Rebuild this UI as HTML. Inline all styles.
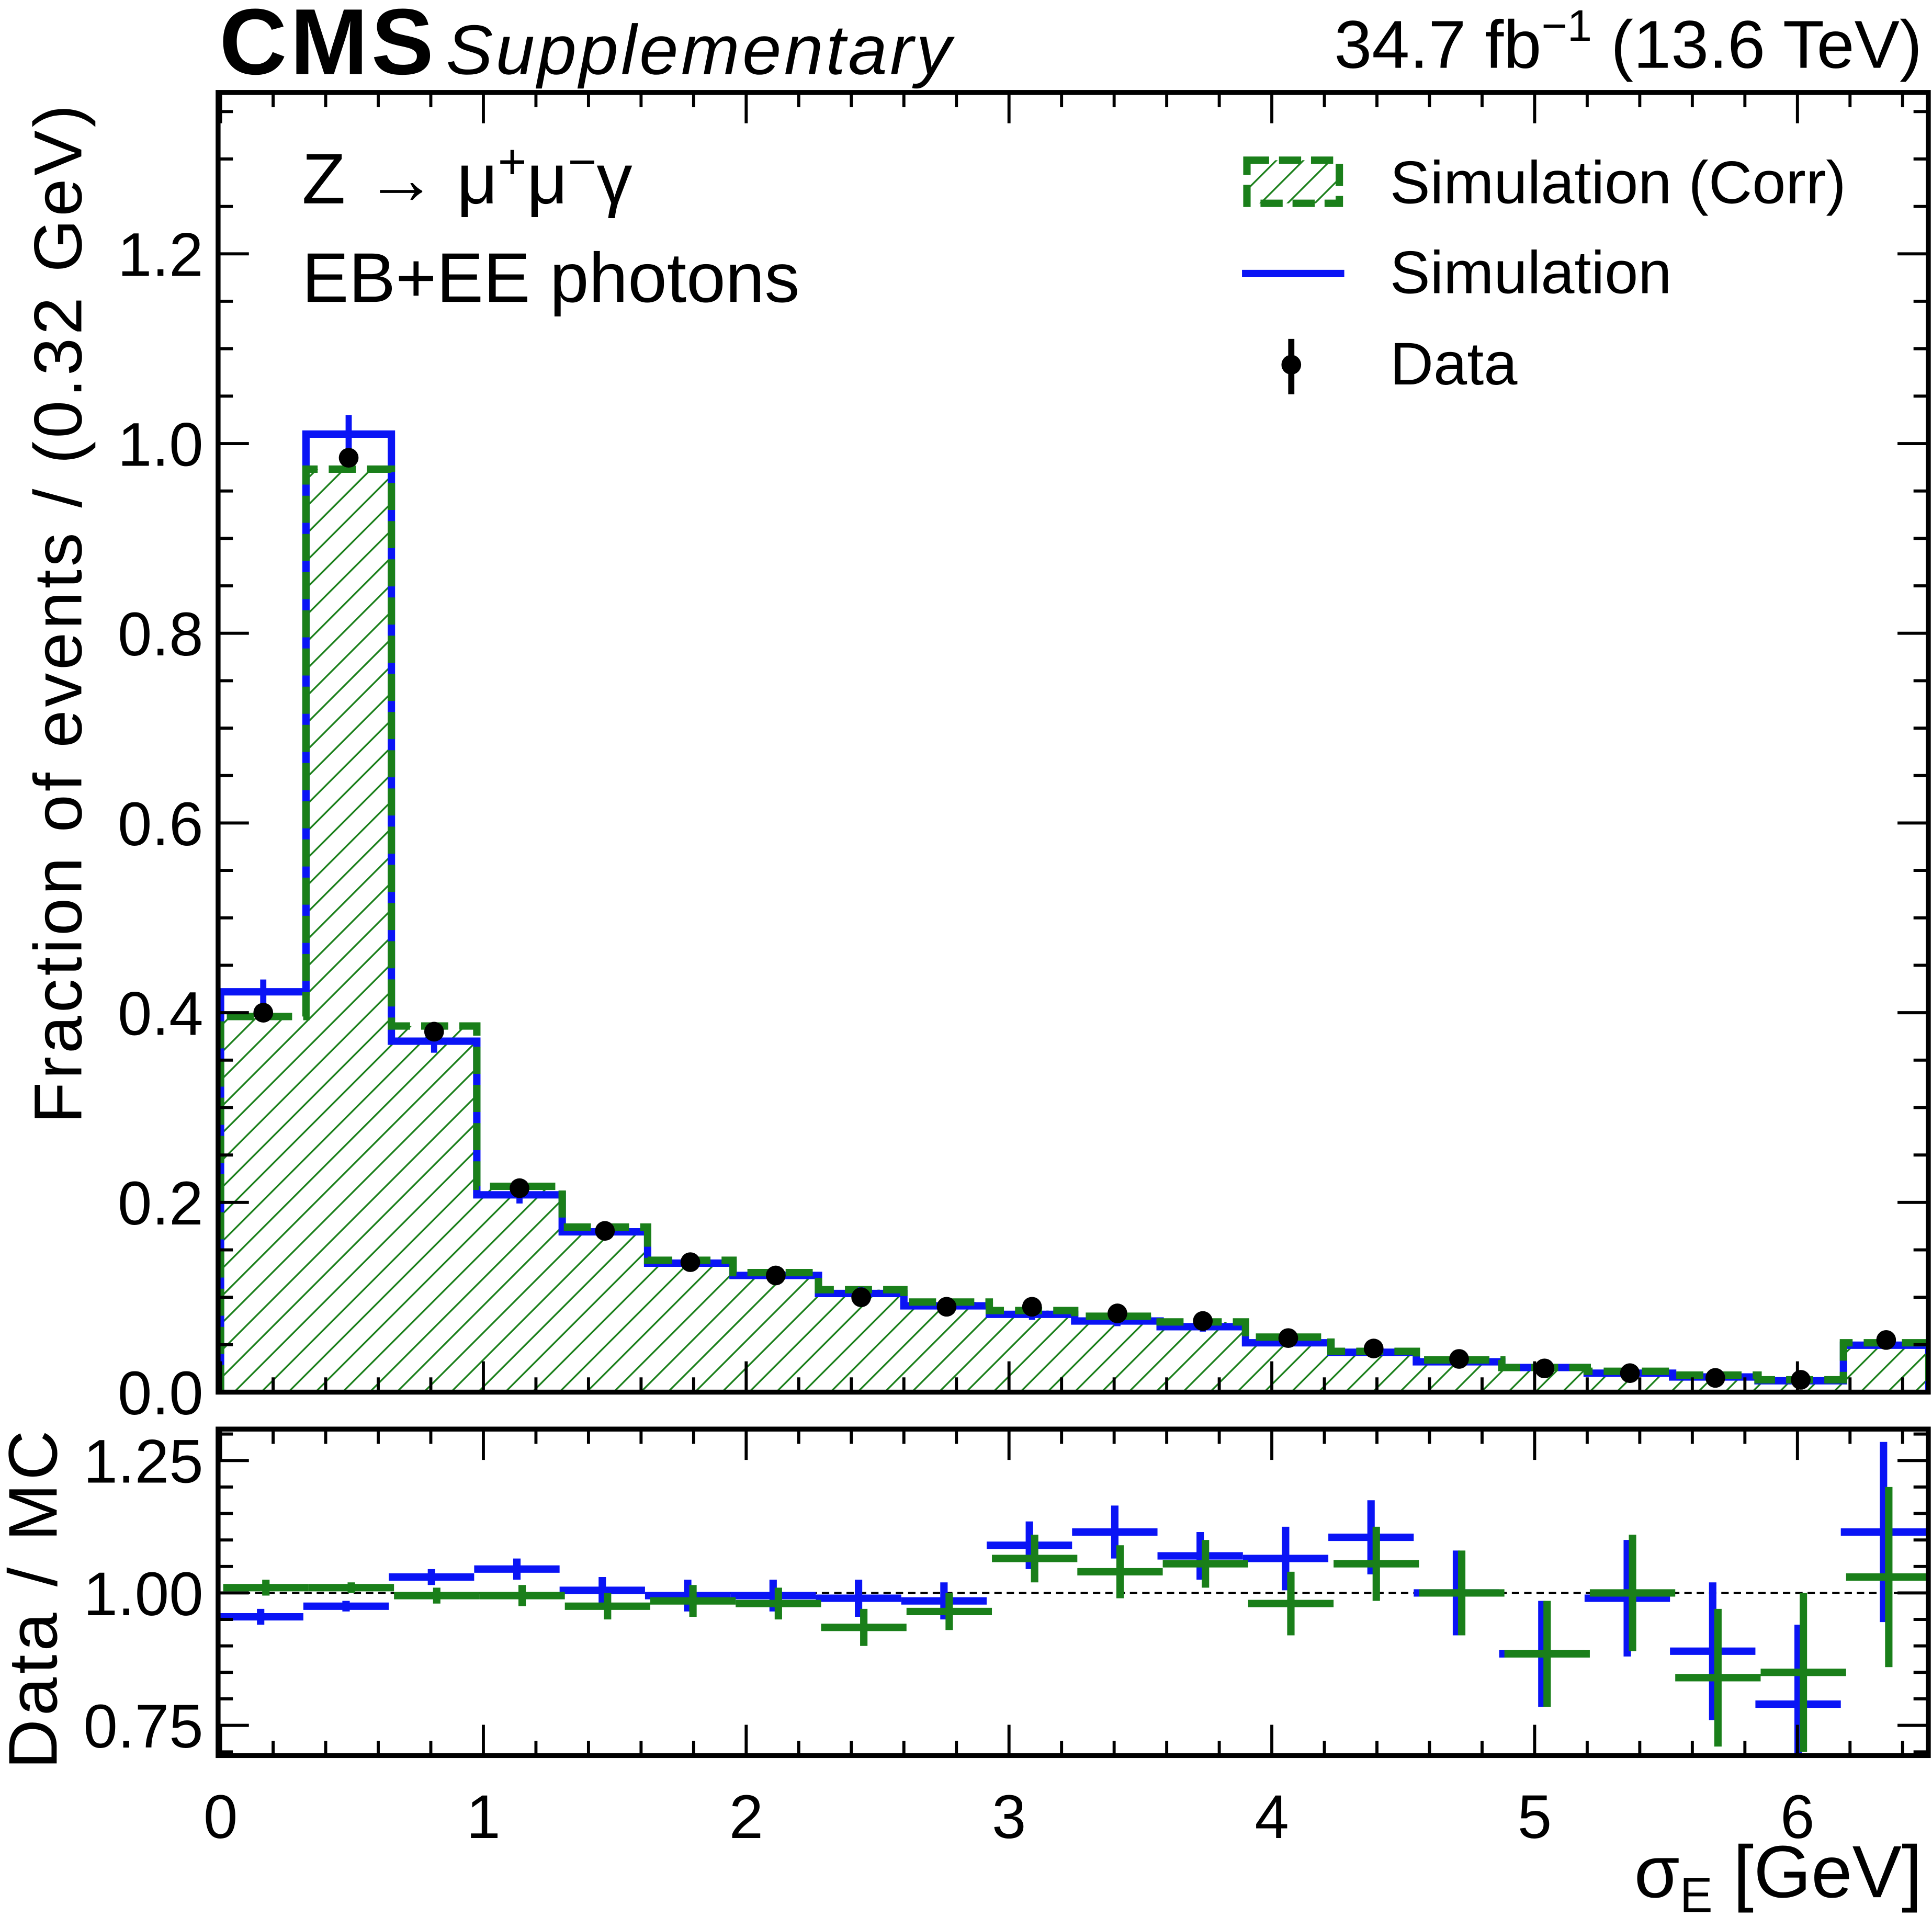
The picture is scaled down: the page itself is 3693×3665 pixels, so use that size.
<!DOCTYPE html>
<html><head><meta charset="utf-8"><style>
html,body{margin:0;padding:0;background:#fff}
svg{display:block;font-family:"Liberation Sans",sans-serif}
</style></head><body>
<svg id="c" width="3693" height="3665" viewBox="0 0 1568 1556" xmlns="http://www.w3.org/2000/svg">
<defs>
<pattern id="hatch" patternUnits="userSpaceOnUse" width="22" height="22">
<path d="M-2,24 L24,-2 M-13,13 L13,-13 M9,35 L35,9" stroke="#1a7f1a" stroke-width="1.4"/>
</pattern>
<clipPath id="mainclip"><rect x="177" y="75" width="1388" height="1055"/></clipPath>
<clipPath id="ratclip"><rect x="177" y="1160" width="1388" height="265"/></clipPath>
</defs>
<g id="main" clip-path="url(#mainclip)"></g>
<g id="ratio" clip-path="url(#ratclip)"></g>
<g id="axes"></g>
<text x="178" y="60" font-size="76" font-weight="bold" textLength="174">CMS</text>
<text x="362" y="60" font-size="57" font-style="italic" textLength="410">Supplementary</text>
<text x="1560" y="55" font-size="55" text-anchor="end">34.7 fb<tspan dy="-22" font-size="36">−1</tspan><tspan dy="22"> (13.6 TeV)</tspan></text>
<text x="245" y="165" font-size="58">Z → μ<tspan dy="-20" font-size="40">+</tspan><tspan dy="20">μ</tspan><tspan dy="-20" font-size="40">−</tspan><tspan dy="20">γ</tspan></text>
<text x="245" y="245" font-size="57">EB+EE photons</text>
<g>
<rect x="1012" y="130" width="75" height="35" fill="url(#hatch)" stroke="#1a7f1a" stroke-width="6" stroke-dasharray="18,8"/>
<text x="1128" y="165" font-size="49">Simulation (Corr)</text>
<line x1="1008" y1="222" x2="1091" y2="222" stroke="#0a14f5" stroke-width="6"/>
<text x="1128" y="238" font-size="49">Simulation</text>
<line x1="1048" y1="275" x2="1048" y2="320" stroke="#000" stroke-width="5"/>
<circle cx="1048" cy="296" r="8" fill="#000"/>
<text x="1128" y="312" font-size="49">Data</text>
</g>
<text transform="translate(66,912) rotate(-90)" font-size="55" textLength="827">Fraction of events / (0.32 GeV)</text>
<text transform="translate(46,1436) rotate(-90)" font-size="56" textLength="275">Data / MC</text>
<text x="1560" y="1540" font-size="60" text-anchor="end">σ<tspan dy="12" font-size="40">E</tspan><tspan dy="-12"> [GeV]</tspan></text>
</svg>
<script>
const binWidth=0.325;
const nBins=20;
const dataVals=[0.40,0.985,0.38,0.215,0.170,0.137,0.123,0.100,0.090,0.090,0.083,0.075,0.057,0.046,0.035,0.025,0.020,0.015,0.013,0.055];
const simVals=[0.422,1.01,0.370,0.208,0.169,0.136,0.123,0.104,0.091,0.082,0.075,0.069,0.052,0.042,0.032,0.026,0.020,0.016,0.012,0.0495];
const corrVals=[0.396,0.973,0.386,0.217,0.174,0.139,0.126,0.108,0.095,0.086,0.080,0.074,0.058,0.043,0.034,0.026,0.022,0.018,0.013,0.052];
const ratioSim=[0.955,0.975,1.03,1.045,1.005,0.995,0.995,0.99,0.985,1.09,1.115,1.07,1.065,1.105,1.0,0.885,0.99,0.89,0.79,1.115];
const ratioCorr=[1.01,1.01,0.995,0.995,0.975,0.985,0.98,0.935,0.965,1.065,1.04,1.055,0.98,1.055,1.0,0.885,1.0,0.84,0.85,1.03];
const ratioErr=[0.015,0.01,0.015,0.02,0.025,0.03,0.03,0.035,0.035,0.045,0.05,0.045,0.06,0.07,0.08,0.1,0.11,0.13,0.15,0.17];
const xTicks=[0,1,2,3,4,5,6];
const yTicks=[0,0.2,0.4,0.6,0.8,1.0,1.2];
const rTicks=[0.75,1.0,1.25];
const edges=[];for(let i=0;i<=nBins;i++)edges.push(i*binWidth);

const NS='http://www.w3.org/2000/svg';
const X=v=>179+v*213.3;
const Y=v=>1130-v*770;
const R=v=>1293-(v-1)*430;
function mk(parent,tag,attrs){const e=document.createElementNS(NS,tag);for(const k in attrs)e.setAttribute(k,attrs[k]);parent.appendChild(e);return e;}
const main=document.getElementById('main'),ratio=document.getElementById('ratio'),axes=document.getElementById('axes');

function stepPath(vals){let d='M'+X(edges[0])+','+Y(0);vals.forEach((v,i)=>{d+=' L'+X(edges[i])+','+Y(v)+' L'+X(edges[i+1])+','+Y(v);});d+=' L'+X(edges[edges.length-1])+','+Y(0);return d;}
const fill=mk(main,'path',{d:stepPath(corrVals)+' Z',fill:'url(#hatch)',stroke:'none'});


const sim=mk(main,'path',{d:stepPath(simVals),fill:'none',stroke:'#0a14f5','stroke-width':6});


const corr=mk(main,'path',{d:stepPath(corrVals),fill:'none',stroke:'#1a7f1a','stroke-width':6,'stroke-dasharray':'22,9'});


simVals.forEach((v,i)=>{const c=(edges[i]+edges[i+1])/2;const e=Math.sqrt(v)*0.02;
const l=mk(main,'line',{x1:X(c),x2:X(c),y1:Y(v+e),y2:Y(v-e),stroke:'#0a14f5','stroke-width':5});

});
dataVals.forEach((v,i)=>{const c=(edges[i]+edges[i+1])/2;
const p=mk(main,'circle',{cx:X(c),cy:Y(v),r:8,fill:'#000'});

});

const u=mk(ratio,'line',{x1:177,x2:1565,y1:R(1),y2:R(1),stroke:'#000','stroke-width':1.5,'stroke-dasharray':'6,4'});


function ratioSeries(vals,col,off,name){vals.forEach((v,i)=>{const a=edges[i]+off,b=edges[i+1]+off,c=(a+b)/2;
const h=mk(ratio,'line',{x1:X(a),x2:X(b),y1:R(v),y2:R(v),stroke:col,'stroke-width':6});


const e=ratioErr[i];
const vl=mk(ratio,'line',{x1:X(c),x2:X(c),y1:R(v+e),y2:R(v-e),stroke:col,'stroke-width':6});

});}
ratioSeries(ratioSim,'#0a14f5',-0.01,'ratio-sim');
ratioSeries(ratioCorr,'#1a7f1a',0.01,'ratio-corr');

function frame(y0,y1,name){const r=mk(axes,'rect',{x:177,y:y0,width:1388,height:y1-y0,fill:'none',stroke:'#000','stroke-width':4});

}
frame(75,1130,'main-plot-frame');frame(1160,1425,'ratio-plot-frame');
function tl(x1,y1,x2,y2){mk(axes,'line',{x1,y1,x2,y2,stroke:'#000','stroke-width':2.5});}
for(let v=0;v<=6.5001;v+=0.2){const major=Math.abs(v-Math.round(v))<1e-6;const L=major?25:12;const x=X(v);
[[75,1130],[1160,1425]].forEach(([t,b])=>{tl(x,b,x,b-L);tl(x,t,x,t+L);});}
xTicks.forEach(v=>{const t=mk(axes,'text',{x:X(v),y:1492,'font-size':50,'text-anchor':'middle'});t.textContent=v;

});
for(let v=0;v<=1.37;v+=0.05){const major=Math.abs(v/0.2-Math.round(v/0.2))<1e-6;const L=major?25:12;const y=Y(v);tl(177,y,177+L,y);tl(1565,y,1565-L,y);}
yTicks.forEach(v=>{const t=mk(axes,'text',{x:165,y:Y(v)+18,'font-size':50,'text-anchor':'end'});t.textContent=v.toFixed(1);

});
for(let v=0.70;v<=1.31;v+=0.05){const major=Math.abs(v/0.25-Math.round(v/0.25))<1e-6;const L=major?25:12;const y=R(v);tl(177,y,177+L,y);tl(1565,y,1565-L,y);}
rTicks.forEach(v=>{const t=mk(axes,'text',{x:165,y:R(v)+18,'font-size':50,'text-anchor':'end'});t.textContent=v.toFixed(2);

});
</script>
</body></html>
